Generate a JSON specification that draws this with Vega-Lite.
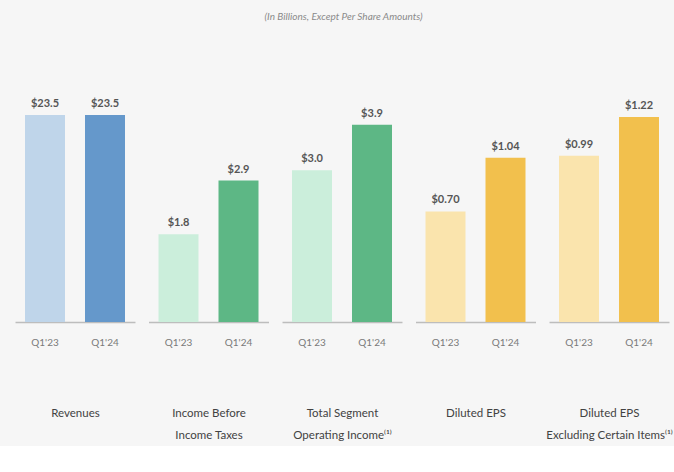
{
  "$schema": "https://vega.github.io/schema/vega-lite/v6.json",
  "background": "#f6f6f6",
  "padding": {"left": 15, "top": 12, "right": 5, "bottom": 5},
  "bounds": "flush",
  "title": {"text": "(In Billions, Except Per Share Amounts)", "fontStyle": "italic", "fontWeight": "normal", "fontSize": 10, "color": "#8a8a8a", "font": "Lato", "anchor": "middle", "offset": 18},
  "datasets": {
    "m": [
      {"metric": "Revenues", "period": "Q1'23", "value": 23.5},
      {"metric": "Revenues", "period": "Q1'24", "value": 23.5},
      {"metric": "Income Before Income Taxes", "period": "Q1'23", "value": 1.8},
      {"metric": "Income Before Income Taxes", "period": "Q1'24", "value": 2.9},
      {"metric": "Total Segment Operating Income", "period": "Q1'23", "value": 3.0},
      {"metric": "Total Segment Operating Income", "period": "Q1'24", "value": 3.9},
      {"metric": "Diluted EPS", "period": "Q1'23", "value": 0.70},
      {"metric": "Diluted EPS", "period": "Q1'24", "value": 1.04},
      {"metric": "Diluted EPS Excluding Certain Items", "period": "Q1'23", "value": 0.99},
      {"metric": "Diluted EPS Excluding Certain Items", "period": "Q1'24", "value": 1.22}
    ]
  },
  "config": {
    "view": {"stroke": null},
    "axis": {"grid": false},
    "axisX": {
      "domainColor": "#bdbdbd", "domainWidth": 1.5, "ticks": false, "tickSize": 0,
      "labelPadding": 15, "labelColor": "#7a7a7a", "labelFont": "Lato",
      "labelFontSize": 10, "labelAngle": 0,
      "titleFont": "Lato", "titleFontSize": 11.5, "titleFontWeight": "normal",
      "titleColor": "#424242", "titlePadding": 60, "titleLineHeight": 22
    },
    "text": {"font": "Lato", "fontWeight": "bold", "fontSize": 11, "color": "#555555", "baseline": "bottom", "dy": -6}
  },
  "spacing": 13.5,
  "resolve": {"scale": {"x": "independent", "y": "independent", "color": "independent"}},
  "hconcat": [
    {
      "width": 120, "height": 282,
      "data": {"name": "m"},
      "transform": [{"filter": "datum.metric == 'Revenues'"}],
      "encoding": {
        "x": {"field": "period", "type": "nominal", "sort": null, "scale": {"paddingInner": 0.3333, "paddingOuter": 0.1667}, "axis": {"title": "Revenues"}},
        "y": {"field": "value", "type": "quantitative", "scale": {"domain": [0, 32.01], "nice": false, "zero": true}, "axis": null}
      },
      "layer": [
        {"mark": {"type": "bar"}, "encoding": {"color": {"field": "period", "type": "nominal", "scale": {"domain": ["Q1'23", "Q1'24"], "range": ["#bfd5ea", "#6598cb"]}, "legend": null}}},
        {"mark": {"type": "text"}, "encoding": {"text": {"field": "value", "type": "quantitative", "format": "$.1f"}}}
      ]
    },
    {
      "width": 120, "height": 282,
      "data": {"name": "m"},
      "transform": [{"filter": "datum.metric == 'Income Before Income Taxes'"}],
      "encoding": {
        "x": {"field": "period", "type": "nominal", "sort": null, "scale": {"paddingInner": 0.3333, "paddingOuter": 0.1667}, "axis": {"title": ["Income Before", "Income Taxes"]}},
        "y": {"field": "value", "type": "quantitative", "scale": {"domain": [0, 5.78], "nice": false, "zero": true}, "axis": null}
      },
      "layer": [
        {"mark": {"type": "bar"}, "encoding": {"color": {"field": "period", "type": "nominal", "scale": {"domain": ["Q1'23", "Q1'24"], "range": ["#cbeedb", "#5db785"]}, "legend": null}}},
        {"mark": {"type": "text"}, "encoding": {"text": {"field": "value", "type": "quantitative", "format": "$.1f"}}}
      ]
    },
    {
      "width": 120, "height": 282,
      "data": {"name": "m"},
      "transform": [{"filter": "datum.metric == 'Total Segment Operating Income'"}],
      "encoding": {
        "x": {"field": "period", "type": "nominal", "sort": null, "scale": {"paddingInner": 0.3333, "paddingOuter": 0.1667}, "axis": {"title": ["Total Segment", "Operating Income⁽¹⁾"]}},
        "y": {"field": "value", "type": "quantitative", "scale": {"domain": [0, 5.573], "nice": false, "zero": true}, "axis": null}
      },
      "layer": [
        {"mark": {"type": "bar"}, "encoding": {"color": {"field": "period", "type": "nominal", "scale": {"domain": ["Q1'23", "Q1'24"], "range": ["#cbeedb", "#5db785"]}, "legend": null}}},
        {"mark": {"type": "text"}, "encoding": {"text": {"field": "value", "type": "quantitative", "format": "$.1f"}}}
      ]
    },
    {
      "width": 120, "height": 282,
      "data": {"name": "m"},
      "transform": [{"filter": "datum.metric == 'Diluted EPS'"}],
      "encoding": {
        "x": {"field": "period", "type": "nominal", "sort": null, "scale": {"paddingInner": 0.3333, "paddingOuter": 0.1667}, "axis": {"title": "Diluted EPS"}},
        "y": {"field": "value", "type": "quantitative", "scale": {"domain": [0, 1.785], "nice": false, "zero": true}, "axis": null}
      },
      "layer": [
        {"mark": {"type": "bar"}, "encoding": {"color": {"field": "period", "type": "nominal", "scale": {"domain": ["Q1'23", "Q1'24"], "range": ["#fae4ad", "#f2c04d"]}, "legend": null}}},
        {"mark": {"type": "text"}, "encoding": {"text": {"field": "value", "type": "quantitative", "format": "$.2f"}}}
      ]
    },
    {
      "width": 120, "height": 282,
      "data": {"name": "m"},
      "transform": [{"filter": "datum.metric == 'Diluted EPS Excluding Certain Items'"}],
      "encoding": {
        "x": {"field": "period", "type": "nominal", "sort": null, "scale": {"paddingInner": 0.3333, "paddingOuter": 0.1667}, "axis": {"title": ["Diluted EPS", "Excluding Certain Items⁽¹⁾"]}},
        "y": {"field": "value", "type": "quantitative", "scale": {"domain": [0, 1.679], "nice": false, "zero": true}, "axis": null}
      },
      "layer": [
        {"mark": {"type": "bar"}, "encoding": {"color": {"field": "period", "type": "nominal", "scale": {"domain": ["Q1'23", "Q1'24"], "range": ["#fae4ad", "#f2c04d"]}, "legend": null}}},
        {"mark": {"type": "text"}, "encoding": {"text": {"field": "value", "type": "quantitative", "format": "$.2f"}}}
      ]
    }
  ]
}
